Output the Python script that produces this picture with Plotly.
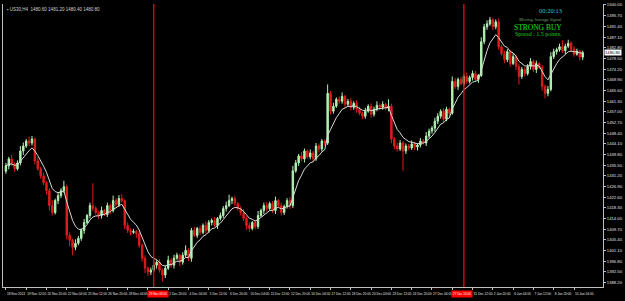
import plotly.graph_objects as go
import pandas as pd

# ---------------- data ----------------
closes = [
 1435.2, 1438.0, 1436.0, 1434.0, 1436.4, 1441.2, 1443.2, 1445.2, 1444.4, 1446.0,
 1437.2, 1434.0, 1431.2, 1428.4, 1425.2, 1419.2, 1416.4, 1421.2, 1423.2, 1425.2,
 1426.8, 1407.2, 1405.2, 1402.4, 1404.0, 1406.0, 1409.2, 1412.4, 1415.2, 1419.2,
 1418.0, 1416.4, 1415.2, 1417.2, 1415.6, 1419.2, 1417.2, 1421.2, 1419.6, 1422.0,
 1421.2, 1411.2, 1409.2, 1408.4, 1408.8, 1408.0, 1403.2, 1398.0, 1394.0, 1392.4,
 1393.2, 1395.2, 1396.4, 1393.2, 1391.2, 1394.0, 1397.2, 1395.2, 1398.0, 1399.2,
 1396.4, 1399.2, 1401.2, 1398.0, 1409.2, 1407.2, 1410.0, 1408.4, 1411.2, 1409.2,
 1412.4, 1413.2, 1411.2, 1414.0, 1415.2, 1418.0, 1419.2, 1421.2, 1422.0, 1420.0,
 1418.0, 1416.4, 1414.0, 1411.2, 1410.0, 1412.4, 1410.8, 1415.2, 1417.2, 1419.2,
 1418.0, 1420.0, 1417.2, 1421.2, 1419.2, 1416.4, 1418.8, 1421.2, 1419.2, 1433.2,
 1436.4, 1439.2, 1438.0, 1441.2, 1438.8, 1440.4, 1438.0, 1443.2, 1442.0, 1445.2,
 1444.4, 1464.4, 1457.2, 1459.2, 1462.0, 1461.2, 1463.2, 1460.0, 1461.2, 1458.8,
 1460.4, 1458.0, 1456.4, 1455.2, 1457.2, 1459.2, 1456.0, 1458.0, 1459.6, 1458.8,
 1460.0, 1458.4, 1459.2, 1446.0, 1443.2, 1442.0, 1444.4, 1441.2, 1443.2, 1442.4,
 1444.0, 1442.8, 1443.6, 1445.2, 1444.4, 1447.2, 1449.2, 1450.4, 1453.2, 1455.2,
 1457.2, 1454.0, 1458.0, 1456.4, 1469.2, 1467.2, 1470.0, 1468.4, 1471.2, 1469.2,
 1470.8, 1472.4, 1470.0, 1471.6, 1485.2, 1491.2, 1492.4, 1494.0, 1491.2, 1493.2,
 1483.2, 1480.4, 1478.0, 1481.2, 1476.4, 1479.2, 1475.2, 1471.2, 1474.0, 1472.4,
 1475.2, 1477.2, 1474.0, 1476.4, 1474.8, 1467.2, 1464.4, 1466.0, 1479.2, 1481.2,
 1482.0, 1483.2, 1481.6, 1483.4, 1484.6, 1482.2, 1480.2, 1481.4, 1479.0, 1480.8,
]
first_open = 1433.0

upper_wick = [
 1.2,0.8,1.6,0.6,1.0,2.0,1.4,0.8,1.8,1.2,
 0.6,1.4,0.8,1.2,0.6,1.0,2.2,0.8,1.4,1.0,
 2.4,0.8,1.2,0.6,1.6,1.0,0.8,1.4,0.6,1.2,
 9.0,1.0,0.8,1.6,0.6,1.2,0.8,2.0,1.0,1.4,
 1.8,0.6,1.2,0.8,1.0,0.6,1.4,0.8,1.2,0.6,
 1.0,1.6,0.8,1.2,0.6,1.0,1.8,0.8,1.4,1.0,
 0.6,1.2,2.0,0.8,1.0,1.4,0.6,1.2,0.8,1.6,
 1.0,0.8,1.4,0.6,1.2,1.0,1.6,2.4,0.8,1.2,
 0.6,1.0,1.4,0.8,1.2,0.6,1.0,1.8,0.8,1.2,
 1.4,0.8,1.0,1.6,0.6,1.2,0.8,1.0,1.4,2.0,
 1.2,0.8,1.6,1.0,0.6,1.4,0.8,1.2,1.0,0.8,
 0.6,3.6,1.0,1.4,0.8,1.2,1.6,0.6,1.0,1.4,
 0.8,1.2,1.0,0.6,1.4,0.8,1.2,1.0,1.6,0.8,
 1.2,0.6,2.8,1.0,0.8,1.4,1.2,0.6,1.0,0.8,
 1.4,1.0,0.6,1.2,0.8,1.6,1.0,0.8,1.4,1.2,
 0.8,1.2,1.0,0.6,2.0,1.4,0.8,1.2,1.0,1.6,
 0.8,1.2,1.0,0.6,1.8,1.2,1.4,1.2,0.8,1.0,
 1.4,0.8,1.2,1.0,0.6,1.4,0.8,1.2,1.0,0.8,
 1.0,1.4,0.8,1.2,0.6,1.0,0.8,1.4,1.8,1.2,
 0.8,1.2,2.6,1.0,1.4,0.8,1.2,1.0,0.6,0.8,
]
lower_wick = [
 1.0,1.4,0.8,1.2,0.6,1.0,1.6,0.8,1.2,1.0,
 1.4,0.8,1.2,1.0,1.6,2.0,1.2,0.8,1.4,1.0,
 0.8,1.6,2.4,3.2,1.2,0.8,1.0,1.4,0.6,1.2,
 1.0,0.8,1.4,1.2,0.6,1.0,1.6,0.8,1.2,1.0,
 0.8,1.4,1.0,1.2,0.6,1.8,1.0,1.4,2.0,1.6,
 1.2,0.8,1.4,1.0,2.6,1.2,0.8,1.0,1.4,0.6,
 1.6,1.0,0.8,1.2,1.4,0.6,1.0,1.2,0.8,1.4,
 1.0,1.2,0.6,1.4,0.8,1.0,1.2,0.6,1.4,1.0,
 0.8,1.2,1.0,1.6,1.4,0.8,1.2,1.0,0.6,1.4,
 1.2,0.8,1.0,1.4,0.6,1.2,1.0,0.8,1.4,1.0,
 0.8,1.2,1.0,1.4,0.6,1.0,1.2,0.8,1.4,1.0,
 1.2,0.8,1.4,1.0,0.6,1.2,1.0,1.4,0.8,1.2,
 1.0,1.4,0.8,1.2,1.0,0.6,1.4,1.0,0.8,1.2,
 1.0,0.8,1.2,1.6,1.4,1.0,0.8,8.0,1.2,1.0,
 0.8,1.2,1.4,1.0,0.6,1.2,0.8,1.0,1.4,1.2,
 1.0,1.4,0.8,1.2,0.6,1.0,1.4,0.8,1.2,1.0,
 0.8,1.2,1.0,1.4,0.6,1.0,1.2,0.8,1.4,1.0,
 1.2,0.8,1.4,1.0,1.2,0.6,1.4,3.2,1.0,1.2,
 0.8,1.2,1.0,1.4,0.6,1.8,2.0,1.2,0.8,1.0,
 1.2,0.8,1.0,1.4,0.8,1.2,1.0,0.6,1.4,1.2,
]

date_labels = [
 "18 Nov 2013", "19 Nov 12:00", "20 Nov 20:00", "22 Nov 04:00", "25 Nov 12:00",
 "26 Nov 20:00", "28 Nov 04:00", "", "2 Dec 20:00", "4 Dec 04:00",
 "5 Dec 12:00", "6 Dec 20:00", "10 Dec 04:00", "11 Dec 12:00", "12 Dec 20:00",
 "16 Dec 04:00", "17 Dec 12:00", "18 Dec 20:00", "20 Dec 04:00", "23 Dec 12:00",
 "24 Dec 20:00", "27 Dec 04:00", "", "31 Dec 12:00", "2 Jan 20:00",
 "6 Jan 04:00", "7 Jan 12:00", "8 Jan 20:00", "10 Jan 04:00",
]
label_every = 7

signal_bars = [51, 158]
signal_labels = ["29 Nov 08:00", "27 Dec 16:00"]
signal_label_nudge = [4, -2]

symbol_text = "US30,H4  1480.60 1481.20 1480.40 1480.80"
clock_text = "00:20:13"
signal_title = "Moving Average Signal"
signal_text = "STRONG BUY"
spread_text = "Spread : 1.5 points."

# ---------------- derived ----------------
n = len(closes)
idx = list(range(n))
opens = [first_open] + closes[:-1]
highs = [max(o, c) + w for o, c, w in zip(opens, closes, upper_wick)]
lows = [min(o, c) - w for o, c, w in zip(opens, closes, lower_wick)]
ma = pd.Series(closes).ewm(span=7, adjust=False).mean().tolist()

GREEN = "#b2f2b2"
RED = "#e01c1c"

fig = go.Figure()
fig.add_trace(go.Candlestick(
    x=idx, open=opens, high=highs, low=lows, close=closes,
    increasing=dict(line=dict(color=GREEN, width=1), fillcolor=GREEN),
    decreasing=dict(line=dict(color=RED, width=1), fillcolor=RED),
    whiskerwidth=0, showlegend=False, hoverinfo="skip",
))
fig.add_trace(go.Scatter(
    x=idx, y=ma, mode="lines", line=dict(color="#d8d8d8", width=1),
    showlegend=False, hoverinfo="skip",
))

for b, lab, nudge in zip(signal_bars, signal_labels, signal_label_nudge):
    fig.add_shape(type="line", x0=b, x1=b, y0=0, y1=1.0, xref="x", yref="paper",
                  line=dict(color="#ff0000", width=1.3), layer="above")
    fig.add_annotation(x=b, y=0, xref="x", yref="paper", yanchor="top", yshift=-3,
                       xshift=nudge, text=lab, showarrow=False, bgcolor="#ff0000",
                       font=dict(size=3.0, color="#ffffff", family="Liberation Sans"),
                       borderpad=1)

tickvals = [i * label_every for i in range(len(date_labels))]

fig.update_layout(
    width=625, height=301,
    margin=dict(l=2, r=17, t=2, b=14),
    paper_bgcolor="#000000", plot_bgcolor="#000000",
    xaxis=dict(range=[-1, 206], rangeslider=dict(visible=False), showgrid=False,
               zeroline=False, showline=True, linecolor="#c0c0c0", linewidth=1,
               mirror=False, tickvals=tickvals, ticktext=date_labels,
               tickangle=0, ticks="outside", ticklen=2, tickcolor="#c0c0c0",
               ticklabelposition="outside right", ticklabelstandoff=3,
               tickfont=dict(size=3.2, color="#e0e0e0", family="Liberation Sans")),
    yaxis=dict(side="right", range=[1386.4, 1500.4], showgrid=False, zeroline=False,
               showline=True, linecolor="#c0c0c0", linewidth=1, mirror=True,
               tick0=1500.0, dtick=4.3, tickformat=".2f",
               ticks="outside", ticklen=2, tickcolor="#c0c0c0",
               tickfont=dict(size=4.2, color="#e0e0e0", family="Liberation Sans")),
    font=dict(family="Liberation Sans"),
)

# current price marker
fig.add_annotation(x=1, xref="paper", y=closes[-1], yref="y", xanchor="left",
                   xshift=1, text=f"{closes[-1]:.2f}", showarrow=False,
                   bgcolor="#ffffff", font=dict(size=4.2, color="#000000"),
                   borderpad=0)

# top-left symbol text
fig.add_annotation(x=0, y=1, xref="paper", yref="paper", xanchor="left", yanchor="top",
                   xshift=2, yshift=-1, text="\u25aa " + symbol_text, showarrow=False,
                   font=dict(size=4.5, color="#d0d0d0", family="Liberation Sans"))

# top-right signal block
cx = 0.935
fig.add_annotation(x=cx, y=1, xref="paper", yref="paper", yanchor="middle",
                   yshift=-6, text=clock_text, showarrow=False,
                   font=dict(size=6.5, color="#20c8c8", family="Liberation Serif"))
fig.add_annotation(x=cx, y=1, xref="paper", yref="paper", yanchor="middle",
                   yshift=-15, text="<i>" + signal_title + "</i>", showarrow=False,
                   font=dict(size=4.5, color="#70a070", family="Liberation Serif"))
fig.add_annotation(x=cx, y=1, xref="paper", yref="paper", yanchor="middle",
                   yshift=-23, text=signal_text, showarrow=False,
                   font=dict(size=7.5, color="#10e010", family="Liberation Serif"))
fig.add_annotation(x=cx, y=1, xref="paper", yref="paper", yanchor="middle",
                   yshift=-30, text=spread_text, showarrow=False,
                   font=dict(size=6, color="#20d020", family="Liberation Serif"))

fig.write_html("out.html")
